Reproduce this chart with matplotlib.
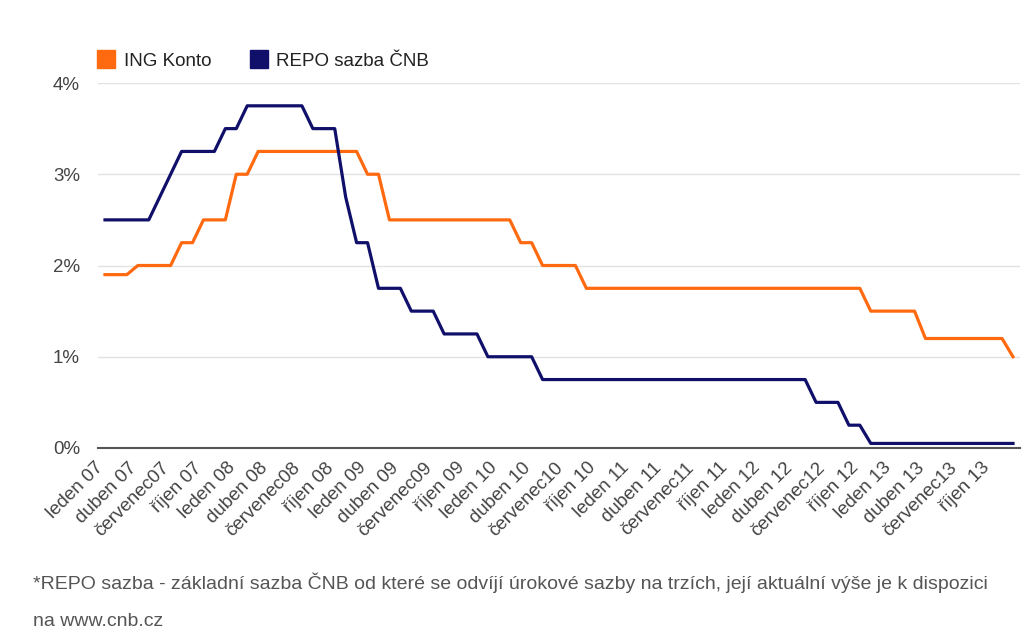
import matplotlib.pyplot as plt
from matplotlib.lines import Line2D
from matplotlib.transforms import ScaledTranslation

# monthly values, leden 2007 .. prosinec 2013
ing_konto = [1.9, 1.9, 1.9, 2.0, 2.0, 2.0, 2.0, 2.25, 2.25, 2.5, 2.5, 2.5,
             3.0, 3.0, 3.25, 3.25, 3.25, 3.25, 3.25, 3.25, 3.25, 3.25, 3.25, 3.25,
             3.0, 3.0, 2.5, 2.5, 2.5, 2.5, 2.5, 2.5, 2.5, 2.5, 2.5, 2.5,
             2.5, 2.5, 2.25, 2.25, 2.0, 2.0, 2.0, 2.0, 1.75, 1.75, 1.75, 1.75,
             1.75, 1.75, 1.75, 1.75, 1.75, 1.75, 1.75, 1.75, 1.75, 1.75, 1.75, 1.75,
             1.75, 1.75, 1.75, 1.75, 1.75, 1.75, 1.75, 1.75, 1.75, 1.75, 1.5, 1.5,
             1.5, 1.5, 1.5, 1.2, 1.2, 1.2, 1.2, 1.2, 1.2, 1.2, 1.2, 1.0]

repo = [2.5, 2.5, 2.5, 2.5, 2.5, 2.75, 3.0, 3.25, 3.25, 3.25, 3.25, 3.5,
        3.5, 3.75, 3.75, 3.75, 3.75, 3.75, 3.75, 3.5, 3.5, 3.5, 2.75, 2.25,
        2.25, 1.75, 1.75, 1.75, 1.5, 1.5, 1.5, 1.25, 1.25, 1.25, 1.25, 1.0,
        1.0, 1.0, 1.0, 1.0, 0.75, 0.75, 0.75, 0.75, 0.75, 0.75, 0.75, 0.75,
        0.75, 0.75, 0.75, 0.75, 0.75, 0.75, 0.75, 0.75, 0.75, 0.75, 0.75, 0.75,
        0.75, 0.75, 0.75, 0.75, 0.75, 0.5, 0.5, 0.5, 0.25, 0.25, 0.05, 0.05,
        0.05, 0.05, 0.05, 0.05, 0.05, 0.05, 0.05, 0.05, 0.05, 0.05, 0.05, 0.05]

tick_labels = []
for yy in ["07", "08", "09", "10", "11", "12", "13"]:
    tick_labels += ["leden " + yy, "duben " + yy, "červenec" + yy, "říjen " + yy]

months = list(range(len(repo)))
orange = "#ff6a10"
navy = "#10106b"

plt.rcParams["font.family"] = ["Liberation Sans", "DejaVu Sans"]

fig = plt.figure(figsize=(10.35, 6.44), dpi=100)
ax = fig.add_axes([98 / 1035, 1 - 448 / 644, (1020 - 98) / 1035, 365 / 644])

ax.plot(months, ing_konto, c=orange, lw=2.3, clip_on=False)
ax.plot(months, repo, c=navy, lw=2.3, clip_on=False)

ax.set_xlim(-0.64, 83.64)
ax.set_ylim(0, 4)
ax.set_yticks([0, 1, 2, 3, 4])
ax.set_yticklabels(["0%", "1%", "2%", "3%", "4%"])
ax.set_xticks(months[::3])
ax.set_xticklabels(tick_labels, rotation=45, ha="right", va="top",
                   rotation_mode="anchor")
ax.grid(axis="y", color="#e2e2e2", lw=1)
ax.set_axisbelow(True)
for s in ["top", "left", "right"]:
    ax.spines[s].set_visible(False)
ax.spines["bottom"].set_color("#555555")
ax.spines["bottom"].set_linewidth(1.5)
ax.tick_params(axis="both", length=0, labelsize=13.5, colors="#444444")
ax.tick_params(axis="y", pad=13)
ax.tick_params(axis="x", pad=6)
shift = ScaledTranslation(-10 / 100, -3 / 100, fig.dpi_scale_trans)
for lbl in ax.get_xticklabels():
    lbl.set_transform(lbl.get_transform() + shift)

handles = [Line2D([], [], ls="none", marker="s", ms=13.5, color=orange),
           Line2D([], [], ls="none", marker="s", ms=13.5, color=navy)]
fig.legend(handles, ["ING Konto", "REPO sazba ČNB"], loc="center left",
           bbox_to_anchor=(97 / 1035, 1 - 61 / 644), ncol=2, frameon=False,
           fontsize=13.5, handlelength=1.0, handletextpad=0.45,
           columnspacing=2.0, borderaxespad=0, borderpad=0, labelcolor="#222222")

fig.text(33 / 1035, 1 - 583 / 644,
         "*REPO sazba - základní sazba ČNB od které se odvíjí úrokové sazby na trzích, "
         "její aktuální výše je k dispozici", fontsize=14, color="#555555", va="center")
fig.text(33 / 1035, 1 - 622 / 644, "na www.cnb.cz", fontsize=14, color="#555555",
         va="center")

fig.savefig("out.png", dpi=100)
